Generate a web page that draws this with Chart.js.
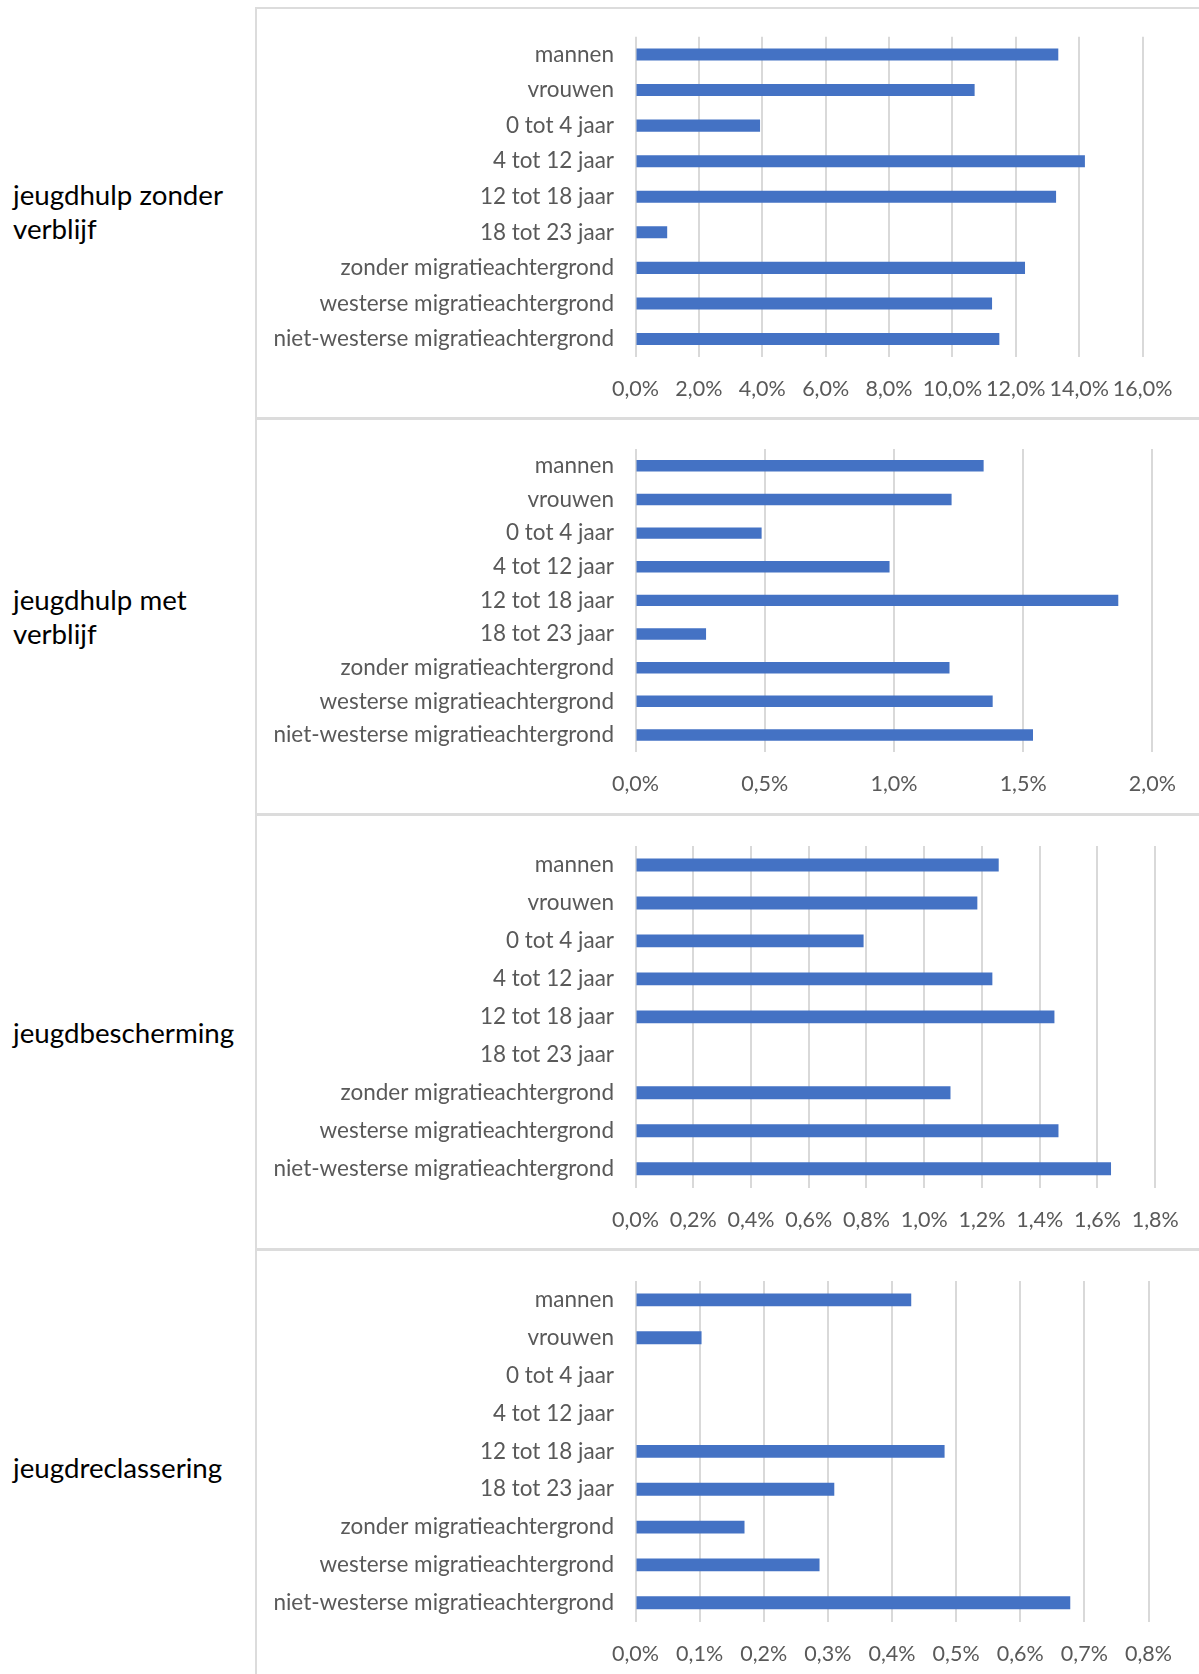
<!DOCTYPE html>
<html>
<head>
<meta charset="utf-8">
<script src="https://cdn.jsdelivr.net/npm/chart.js@4/dist/chart.umd.min.js"></script>
<style>
  html, body { margin: 0; padding: 0; background: #fff; }
  body { width: 1199px; height: 1674px; position: relative; overflow: hidden; font-family: Lato, "Open Sans", sans-serif; }
  .line { position: absolute; background: #dcdcdc; }
  .title { position: absolute; left: 13px; font-size: 27.7px; line-height: 34px; color: #000; }
  .cell { position: absolute; left: 257px; width: 942px; }
</style>
</head>
<body>
<script>
// categorieen (zelfde voor alle vier grafieken)
var categories = [
	"mannen",
	"vrouwen",
	"0 tot 4 jaar",
	"4 tot 12 jaar",
	"12 tot 18 jaar",
	"18 tot 23 jaar",
	"zonder migratieachtergrond",
	"westerse migratieachtergrond",
	"niet-westerse migratieachtergrond"
];

// percentages per grafiek
var jeugdhulpZonderVerblijf = [13.34, 10.70, 3.93, 14.18, 13.27, 1.00, 12.29, 11.25, 11.48];
var jeugdhulpMetVerblijf    = [1.347, 1.223, 0.488, 0.983, 1.868, 0.273, 1.215, 1.382, 1.538];
var jeugdbescherming        = [1.258, 1.184, 0.790, 1.236, 1.451, 0, 1.091, 1.465, 1.647];
var jeugdreclassering       = [0.430, 0.103, 0, 0, 0.482, 0.310, 0.170, 0.287, 0.678];

var rowTitles = [
	["jeugdhulp zonder", "verblijf"],
	["jeugdhulp met", "verblijf"],
	["jeugdbescherming"],
	["jeugdreclassering"]
];
var axisMax  = [16, 2, 1.8, 0.8];
var axisStep = [2, 0.5, 0.2, 0.1];

// opmaak (pixels)
var cellTop    = [10, 421, 817, 1253];
var cellBottom = [417, 813, 1248, 1674];
var areaTop    = [36.7, 449, 846, 1281];
var areaBottom = [356.8, 751.8, 1187.7, 1621.7];
var areaRight  = [1142.6, 1152.4, 1155.2, 1148.5];
var titleTop   = [178, 583, 1016, 1451];
var borderY    = [7, 417, 813, 1248];

var series = [jeugdhulpZonderVerblijf, jeugdhulpMetVerblijf, jeugdbescherming, jeugdreclassering];

function addDiv(cls, css) {
	var d = document.createElement("div");
	d.className = cls;
	for (var k in css) d.style[k] = css[k];
	document.body.appendChild(d);
	return d;
}

// tabelranden
addDiv("line", { left: "255px", top: "7px", width: "2px", height: "1667px" });
for (var b = 0; b < borderY.length; b++) {
	addDiv("line", { left: "255px", top: borderY[b] + "px", width: "944px", height: (b == 0 ? 2 : 3) + "px" });
}

var FONT = "Lato";

for (var i = 0; i < 4; i++) {
	var t = addDiv("title", { top: titleTop[i] + "px" });
	t.innerHTML = rowTitles[i].join("<br>");

	var cell = addDiv("cell", { top: cellTop[i] + "px", height: (cellBottom[i] - cellTop[i]) + "px" });
	var cv = document.createElement("canvas");
	cell.appendChild(cv);

	var xH = 50;
	new Chart(cv.getContext("2d"), {
		type: "bar",
		data: {
			labels: categories,
			datasets: [{
				data: series[i],
				backgroundColor: "#4472c4",
				borderWidth: 0,
				barPercentage: 0.34,
				categoryPercentage: 1
			}]
		},
		options: {
			indexAxis: "y",
			responsive: true,
			maintainAspectRatio: false,
			animation: false,
			layout: {
				padding: {
					top: areaTop[i] - cellTop[i],
					bottom: cellBottom[i] - areaBottom[i] - xH,
					left: 0,
					right: 1199 - areaRight[i]
				}
			},
			plugins: { legend: { display: false }, tooltip: { enabled: false } },
			scales: {
				x: {
					min: 0,
					max: axisMax[i],
					ticks: {
						stepSize: axisStep[i],
						padding: 19.5,
						color: "#595959",
						autoSkip: false,
						maxRotation: 0,
						minRotation: 0,
						font: { family: FONT, size: 21.5 },
						callback: function(v) { return v.toFixed(1).replace(".", ",") + "%"; }
					},
					grid: { color: "#d9d9d9", lineWidth: 2, drawTicks: false, tickLength: 0 },
					border: { display: false },
					afterFit: function(s) { s.height = xH; }
				},
				y: {
					ticks: {
						padding: 21.5,
						color: "#595959",
						autoSkip: false,
						font: { family: FONT, size: 22.5 }
					},
					grid: { display: false, drawTicks: false },
					border: { display: false },
					afterFit: function(s) {
						s.width = 378.5;
						s.paddingTop = 0;
						s.paddingBottom = 0;
					}
				}
			}
		}
	});
}
</script>
</body>
</html>
